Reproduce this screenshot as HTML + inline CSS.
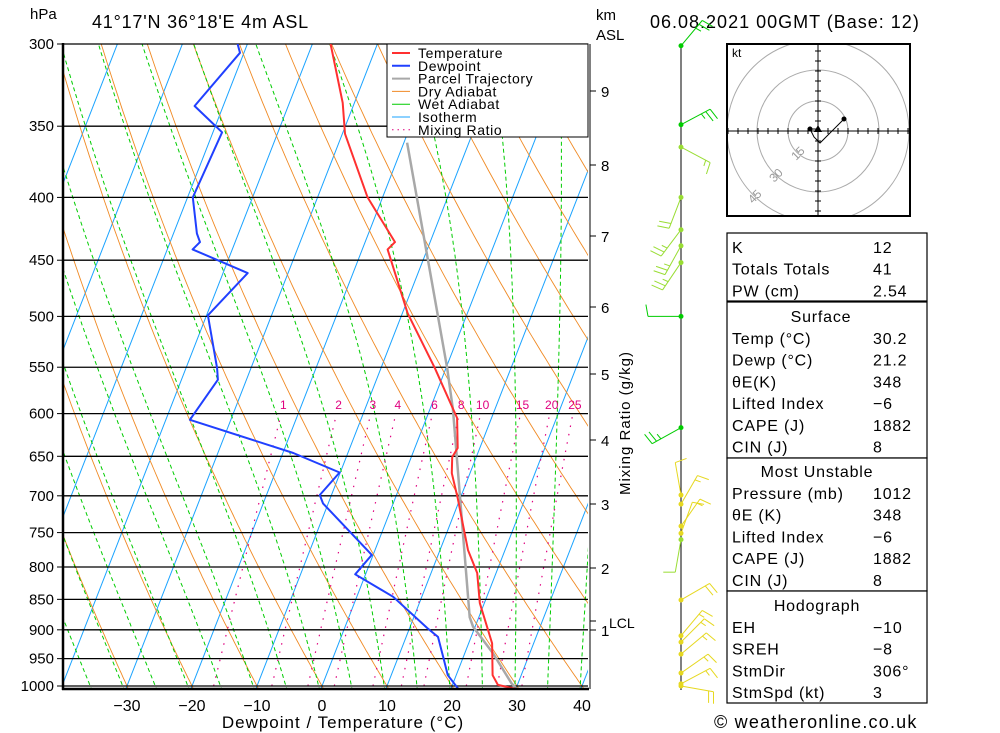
<!DOCTYPE html>
<html><head><meta charset="utf-8"><style>
html,body{margin:0;padding:0;background:#fff;}
svg{display:block;font-family:"Liberation Sans",sans-serif;}
</style></head><body>
<svg id="c" width="1000" height="733" viewBox="0 0 1000 733" xmlns="http://www.w3.org/2000/svg">
<defs><clipPath id="pc"><rect x="63" y="44" width="525" height="645"/></clipPath><clipPath id="hc"><rect x="727" y="44" width="183" height="172"/></clipPath></defs>
<g id="bg" clip-path="url(#pc)"></g>
<g id="iso"></g>
<g id="ser" clip-path="url(#pc)"></g>
<g id="ax"></g>
<g id="wind"></g>
<g id="hodo"></g>
<g id="tbl"></g>
</svg>
<script>
// ---- data ----
const tempP=[300,335,355,400,435,441,497,551,605,640,651,671,703,775,809,856,923,980,998,1006];
const tempT=[-37.2,-31.8,-29.6,-22.3,-15.4,-16.1,-9.2,-1.7,4.7,6.6,6.3,7.2,9.6,14.3,17.1,19.3,23.6,25.6,27.0,30.2];
const dewP=[300,305,337,354,400,428,435,441,461,499,551,563,607,646,670,699,710,782,811,846,897,912,947,980,1006];
const dewT=[-51.5,-50.6,-54.4,-48.6,-49.2,-46.4,-45.4,-46.1,-36.2,-39.8,-35.2,-34.4,-36.3,-18.4,-10.1,-11.8,-10.8,-0.2,-1.6,5.6,12.7,14.9,16.9,18.7,21.2];
const parcelP=[361,551,596,879,895,940,995,1006];
const parcelT=[-19.5,0.2,3.6,18.6,19.7,24.3,29.0,30.2];
const pressureTicks=[300,350,400,450,500,550,600,650,700,750,800,850,900,950,1000];
const tempTicks=[-30,-20,-10,0,10,20,30,40];
const kmTicks=[1,2,3,4,5,6,7,8,9];
const kmY=[630,568,504,440,374,307,236,165,91];
const mixRatios=[1,2,3,4,6,8,10,15,20,25];
const barbP=[301,349,364,400,425,438,452,500,616,699,711,741,751,760,851,910,921,942,976,996,1000];
const barbDir=[40,62,118,201,217,209,214,270,241,350,30,35,20,190,60,40,45,50,55,62,100];
const barbSpd=[25,25,15,20,25,25,25,10,25,10,15,15,10,10,20,15,15,15,15,15,20];
const hodoU=[13,1,-2,-4,0];
const hodoV=[6,-6,-3,1,1];
const tableRows=[["K","12"],["Totals Totals","41"],["PW (cm)","2.54"]];
const surfRows=[["Temp (°C)","30.2"],["Dewp (°C)","21.2"],["θE(K)","348"],["Lifted Index","−6"],["CAPE (J)","1882"],["CIN (J)","8"]];
const muRows=[["Pressure (mb)","1012"],["θE (K)","348"],["Lifted Index","−6"],["CAPE (J)","1882"],["CIN (J)","8"]];
const hodRows=[["EH","−10"],["SREH","−8"],["StmDir","306°"],["StmSpd (kt)","3"]];

// ---- axes functions ----
const LN=Math.log(1000/300);
function Y(p){return 686-642*Math.log(1000/p)/LN;}
function X(T,p){return 322+6.5*T+0.39*(686-Y(p));}
const NS="http://www.w3.org/2000/svg";
function mk(tag,at,parent){const e=document.createElementNS(NS,tag);for(const k in at)e.setAttribute(k,at[k]);parent.appendChild(e);return e;}
function txt(s,at,parent){const e=mk('text',at,parent);e.textContent=s;return e;}
const bg=document.getElementById('bg'),iso=document.getElementById('iso'),ser=document.getElementById('ser'),ax=document.getElementById('ax'),wind=document.getElementById('wind'),hodo=document.getElementById('hodo'),tbl=document.getElementById('tbl');
const Ps=[];for(let p=1010;p>=290;p-=5)Ps.push(p);

// isotherms
for(let T=-120;T<=40;T+=10){
  const l=mk('line',{x1:X(T,1010),y1:Y(1010),x2:X(T,290),y2:Y(290),stroke:'#1aa3ff','stroke-width':1},bg);
  
  
}
// dry adiabats
for(let th=-30;th<=200;th+=10){
  const pts=Ps.map(p=>{const T=(th+273.15)*Math.pow(p/1000,0.286)-273.15;return X(T,p).toFixed(1)+','+Y(p).toFixed(1);});
  const l=mk('polyline',{points:pts.join(' '),fill:'none',stroke:'#f08a24','stroke-width':0.9},bg);
  
  
}
// wet adiabats
function es(T){return 6.112*Math.exp(17.67*T/(T+243.5));}
for(let tw=-35;tw<=40;tw+=5){
  let T=tw,pts=[];
  for(let p=1010;p>=290;p-=2){
    pts.push(X(T,p).toFixed(1)+','+Y(p).toFixed(1));
    const Tk=T+273.15,e=es(T),r=0.622*e/(p-e),L=2.5e6;
    const dTdp=(287*Tk+L*r)/(p*(1004+L*L*r*0.622/(287*Tk*Tk)));
    T-=dTdp*2;
  }
  const l=mk('polyline',{points:pts.join(' '),fill:'none',stroke:'#00cc00','stroke-width':1,'stroke-dasharray':'4,3'},bg);
  
  
}
// mixing ratio
function tdw(w,p){const e=w*p/(622+w);const a=Math.log(e/6.112);return 243.5*a/(17.67-a)+0.45+0.6*Math.log(w);}
mixRatios.forEach(w=>{
  const pts=[];for(let p=1000;p>=600;p-=10)pts.push(X(tdw(w,p),p).toFixed(1)+','+Y(p).toFixed(1));
  const l=mk('polyline',{points:pts.join(' '),fill:'none',stroke:'#e0007f','stroke-width':1.2,'stroke-dasharray':'1.5,7'},bg);
  
  
  const t=txt(String(w),{x:X(tdw(w,600),600)+2,y:409,'font-size':12,fill:'#e0007f','text-anchor':'middle'},ax);
  
  
});
// isobars
pressureTicks.forEach(p=>{
  const l=mk('line',{x1:63,x2:588,y1:Y(p),y2:Y(p),stroke:'#000','stroke-width':1.3},iso);
  
  
  const t=txt(String(p),{x:54,y:Y(p)+5,'font-size':15,'text-anchor':'end',fill:'#000'},ax);
  
  
  mk('line',{x1:57,x2:63,y1:Y(p),y2:Y(p),stroke:'#000'},ax);
});
// profiles
function prof(P,T,color,w,name){
  const pts=P.map((p,i)=>X(T[i],p).toFixed(1)+','+Y(p).toFixed(1));
  const l=mk('polyline',{points:pts.join(' '),fill:'none',stroke:color,'stroke-width':w,'stroke-linejoin':'round'},ser);
  
  
}
prof(parcelP,parcelT,'#a8a8a8',2.5,'parcel-trajectory-line');
prof(dewP,dewT,'#2040ff',2,'dewpoint-line');
prof(tempP,tempT,'#ff3030',2,'temperature-line');
// frame
mk('line',{x1:63,y1:43,x2:63,y2:690,stroke:'#000','stroke-width':2.5},ax);
mk('line',{x1:62,y1:689,x2:589,y2:689,stroke:'#000','stroke-width':2.5},ax);
mk('line',{x1:590,y1:44,x2:590,y2:689,stroke:'#000','stroke-width':1},ax);
tempTicks.forEach(T=>{
  const x=X(T,1000);
  const t=txt(T<0?'−'+Math.abs(T):String(T),{x:x,y:711,'font-size':16,'text-anchor':'middle'},ax);
  
  
});
kmTicks.forEach((k,i)=>{
  mk('line',{x1:590,x2:596,y1:kmY[i],y2:kmY[i],stroke:'#000'},ax);
  const t=txt(String(k),{x:601,y:kmY[i]+6,'font-size':15},ax);
  
  
});
mk('line',{x1:590,x2:596,y1:621,y2:621,stroke:'#000'},ax);
txt('LCL',{x:609,y:628,'font-size':14},ax);
let e;
e=txt('Dewpoint / Temperature (°C)',{x:343,y:728,'font-size':17,'text-anchor':'middle','letter-spacing':'1'},ax);


e=txt('Mixing Ratio (g/kg)',{x:0,y:0,'font-size':15,'text-anchor':'middle','transform':'translate(630,423) rotate(-90)','letter-spacing':'1'},ax);


e=txt('hPa',{x:30,y:19,'font-size':15},ax);
e=txt('km',{x:596,y:20,'font-size':15},ax);
e=txt('ASL',{x:596,y:40,'font-size':15},ax);
e=txt("41°17'N  36°18'E  4m  ASL",{x:92,y:28,'font-size':18,'letter-spacing':'0.8'},ax);
e=txt('06.08.2021  00GMT  (Base: 12)',{x:650,y:28,'font-size':18,'letter-spacing':'1'},ax);
e=txt('© weatheronline.co.uk',{x:714,y:728,'font-size':18,'letter-spacing':'1.2'},ax);
// legend
const lg=mk('g',{},ax);


mk('rect',{x:387,y:44,width:201,height:93,fill:'#fff',stroke:'#000','stroke-width':1},lg);
const legN=['Temperature','Dewpoint','Parcel Trajectory','Dry Adiabat','Wet Adiabat','Isotherm','Mixing Ratio'];
const legC=['#ff3030','#2040ff','#a8a8a8','#f08a24','#00cc00','#1aa3ff','#e0007f'];
const legW=[2,2,2,1,1,1,1];
legN.forEach((n,i)=>{
  const y=53+i*12.8;
  const l=mk('line',{x1:392,x2:410,y1:y,y2:y,stroke:legC[i],'stroke-width':legW[i]},lg);
  if(i==6)l.setAttribute('stroke-dasharray','1.5,4');
  const t=txt(n,{x:418,y:y+5,'font-size':14,'letter-spacing':'0.6'},lg);
  
  
});
// wind barbs
mk('line',{x1:681,y1:44,x2:681,y2:690,stroke:'#000','stroke-width':1},wind);
barbP.forEach((p,i)=>{
  const y0=Y(p),x0=681,b=barbDir[i]*Math.PI/180,L=33;
  const col=p<360?'#00cc00':(p<=460?'#99dd33':(p<=620&&p>=490?'#00cc00':(p>755&&p<770?'#99dd33':'#e6d820')));
  const g=mk('g',{stroke:col,'stroke-width':1,fill:col},wind);
  
  
  const ex=x0+L*Math.sin(b),ey=y0-L*Math.cos(b);
  mk('line',{x1:x0,y1:y0,x2:ex,y2:ey},g);
  let s=barbSpd[i],k=0;const bb=b+80*Math.PI/180;
  while(s>=5){
    const len=s>=10?12:6;
    const px=ex-k*5*Math.sin(b),py=ey+k*5*Math.cos(b);
    mk('line',{x1:px,y1:py,x2:px+len*Math.sin(bb),y2:py-len*Math.cos(bb)},g);
    s-=s>=10?10:5;k++;
  }
  mk('circle',{cx:x0,cy:y0,r:2.5,stroke:'none'},g);
});
// hodograph
const hc={x:818,y:131};
mk('rect',{x:727,y:44,width:183,height:172,fill:'#fff',stroke:'none'},hodo);
const hg=mk('g',{'clip-path':'url(#hc)'},hodo);
[30,61,91].forEach(r=>mk('circle',{cx:hc.x,cy:hc.y,r:r,fill:'none',stroke:'#aaa','stroke-width':1},hg));
mk('line',{x1:727,x2:910,y1:hc.y,y2:hc.y,stroke:'#000'},hg);
mk('line',{x1:hc.x,x2:hc.x,y1:44,y2:216,stroke:'#000'},hg);
for(let d=-90;d<=90;d+=10){if(!d)continue;mk('line',{x1:hc.x+d,x2:hc.x+d,y1:hc.y-3,y2:hc.y+3,stroke:'#000'},hg);mk('line',{x1:hc.x-3,x2:hc.x+3,y1:hc.y+d,y2:hc.y+d,stroke:'#000'},hg);}
[['15',30],['30',61],['45',91]].forEach(([s,r])=>{const a=Math.PI*0.75;const t=txt(s,{x:0,y:0,'font-size':12,fill:'#999','text-anchor':'middle',transform:`translate(${hc.x+r*Math.cos(a)+4},${hc.y-r*Math.sin(a)*-1+4}) rotate(-45)`},hg);});
mk('rect',{x:727,y:44,width:183,height:172,fill:'none',stroke:'#000','stroke-width':2},hodo);
txt('kt',{x:732,y:57,'font-size':12},hodo);
const hp=hodoU.map((u,i)=>(hc.x+u*2)+','+(hc.y-hodoV[i]*2));
const hl=mk('polyline',{points:hp.join(' '),fill:'none',stroke:'#000','stroke-width':1},hodo);


mk('circle',{cx:hc.x+hodoU[0]*2,cy:hc.y-hodoV[0]*2,r:2.5},hodo);
mk('circle',{cx:810,cy:129,r:2.5},hodo);
mk('polygon',{points:'818,125 814,132 822,132'},hodo);
// table
function box(y,h){mk('rect',{x:727,y:y,width:200,height:h,fill:'#fff',stroke:'#000','stroke-width':1.2},tbl);}
function rows(rs,y0){rs.forEach((r,i)=>{
  const a=txt(r[0],{x:732,y:y0+i*21.7,'font-size':16,'letter-spacing':'0.8'},tbl);
  
  
  const b=txt(r[1],{x:873,y:y0+i*21.7,'font-size':16,'letter-spacing':'0.8'},tbl);
  
  
});}
box(233,68);rows(tableRows,253);
box(302,156);txt('Surface',{x:821,y:322,'font-size':16,'text-anchor':'middle','letter-spacing':'0.8'},tbl);rows(surfRows,344);
box(458,133);txt('Most Unstable',{x:817,y:477,'font-size':16,'text-anchor':'middle','letter-spacing':'0.8'},tbl);rows(muRows,499);
box(591,112);txt('Hodograph',{x:817,y:611,'font-size':16,'text-anchor':'middle','letter-spacing':'0.8'},tbl);rows(hodRows,633);
</script>
</body></html>
